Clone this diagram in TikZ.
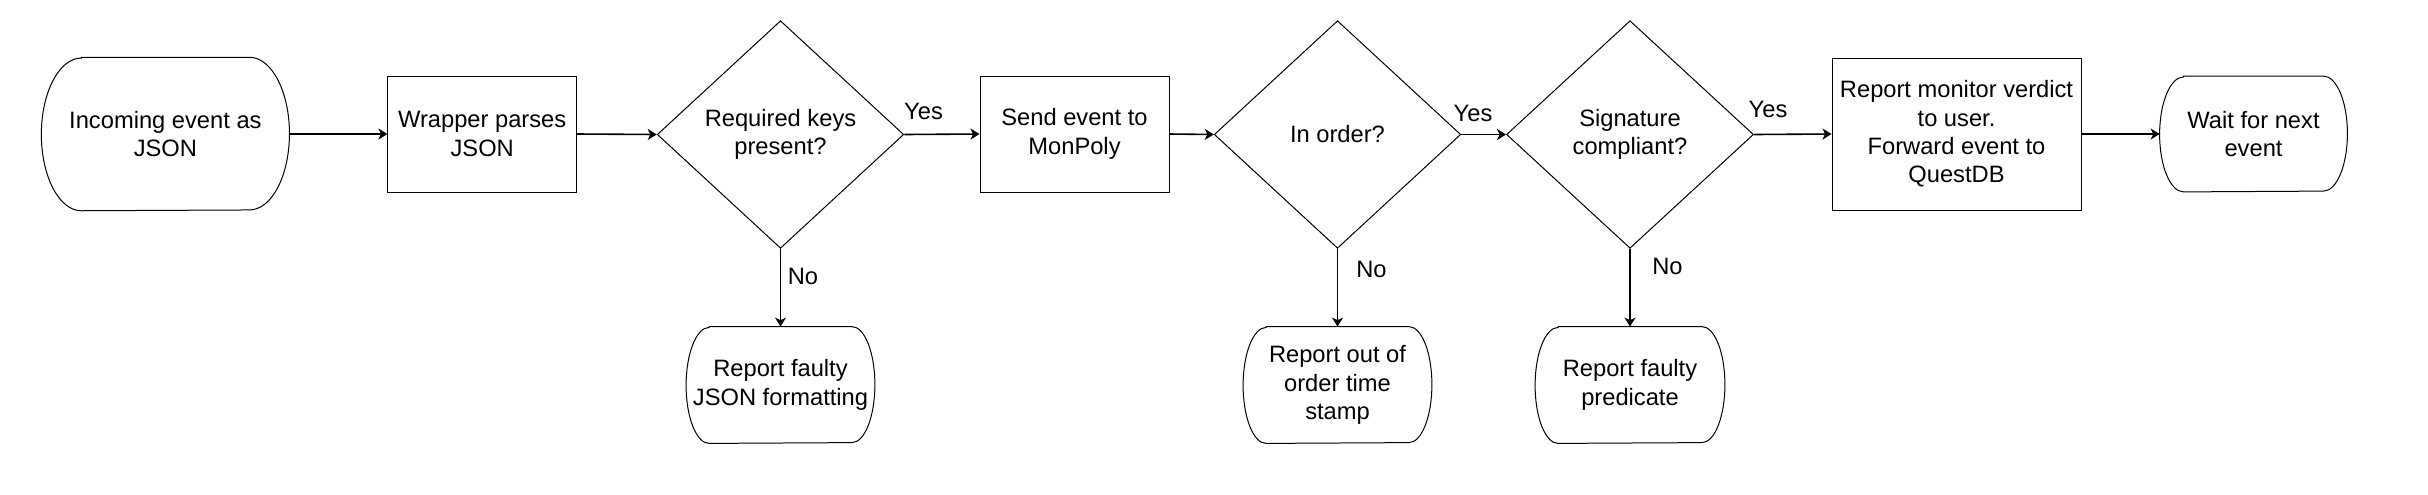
\documentclass[tikz,border=0pt]{standalone}
\usepackage{fontspec}
\setmainfont{Liberation Sans}
\usetikzlibrary{shapes.geometric,arrows.meta}
\newcommand\drawterm[3]{%
  \draw[termline] ([xshift=#2]#1.north west) -- ([xshift=-#2]#1.north east)
    arc[start angle=90,end angle=-90,x radius=#2,y radius=#3]
    -- ([xshift=#2]#1.south west)
    arc[start angle=270,end angle=90,x radius=#2,y radius=#3] -- cycle;}
\begin{document}
\begin{tikzpicture}[x=0.5pt,y=-0.5pt,
  base/.style={align=center, inner sep=0pt, font=\fontsize{11.85}{14.15}\selectfont, text=black},
  procbox/.style={base, draw, line width=0.5pt, rectangle},
  termtext/.style={base, rectangle},
  termline/.style={line width=0.5pt},
  decision/.style={base, draw, line width=0.5pt, diamond},
  flow/.style={draw, line width=0.8pt, -{Stealth[length=4.5pt,width=5.5pt,inset=1.3pt]}},
  lbl/.style={base}
]
\useasboundingbox (0,0) rectangle (2428,494);

% main row
\node[termtext, minimum width=123.65pt, minimum height=76.35pt] (start) at (165.4,134) {Incoming event as\\JSON};
\drawterm{start}{20pt}{38.175pt}
\node[procbox, minimum width=94.3pt, minimum height=58pt] (wrap) at (482.2,134) {Wrapper parses\\JSON};
\node[decision, minimum width=123.25pt, minimum height=113.8pt] (d1) at (780.5,134.5) {Required keys\\present?};
\node[procbox, minimum width=94.5pt, minimum height=58pt] (send) at (1074.5,134) {Send event to\\MonPoly};
\node[decision, minimum width=123.25pt, minimum height=113.8pt] (d2) at (1337.5,134.5) {In order?};
\node[decision, minimum width=123.5pt, minimum height=113.8pt] (d3) at (1630,134.5) {Signature\\compliant?};
\node[procbox, minimum width=124.5pt, minimum height=76pt] (mon) at (1956.5,134) {Report monitor verdict\\to user.\\Forward event to\\QuestDB};
\node[termtext, minimum width=93.5pt, minimum height=57.5pt] (wait) at (2253.5,134) {Wait for next\\event};
\drawterm{wait}{12pt}{28.75pt}

% bottom row
\node[termtext, minimum width=94pt, minimum height=58pt] (rj) at (780.5,385) {Report faulty\\JSON formatting};
\drawterm{rj}{11.5pt}{29pt}
\node[termtext, minimum width=94pt, minimum height=58pt] (ro) at (1337.5,385) {Report out of\\order time\\stamp};
\drawterm{ro}{11.5pt}{29pt}
\node[termtext, minimum width=94.5pt, minimum height=58pt] (rp) at (1630,385) {Report faulty\\predicate};
\drawterm{rp}{11.5pt}{29pt}

% connectors
\draw[flow] (start.east) -- (wrap.west);
\draw[flow] (wrap.east) -- (d1.west);
\draw[flow] (d1.east) -- (send.west);
\draw[flow] (send.east) -- (d2.west);
\draw[flow] (d2.east) -- (d3.west);
\draw[flow] (d3.east) -- (mon.west);
\draw[flow] (mon.east) -- (wait.west);
\draw[flow] (d1.south) -- (rj.north);
\draw[flow] (d2.south) -- (ro.north);
\draw[flow] (d3.south) -- (rp.north);

% labels
\node[lbl] (y1) at (923.5,111) {Yes};
\node[lbl] (y2) at (1473,113) {Yes};
\node[lbl] (y3) at (1768,109) {Yes};
\node[lbl] (n1) at (803,276.5) {No};
\node[lbl] (n2) at (1371.5,269) {No};
\node[lbl] (n3) at (1667.5,266) {No};
\end{tikzpicture}
\end{document}
